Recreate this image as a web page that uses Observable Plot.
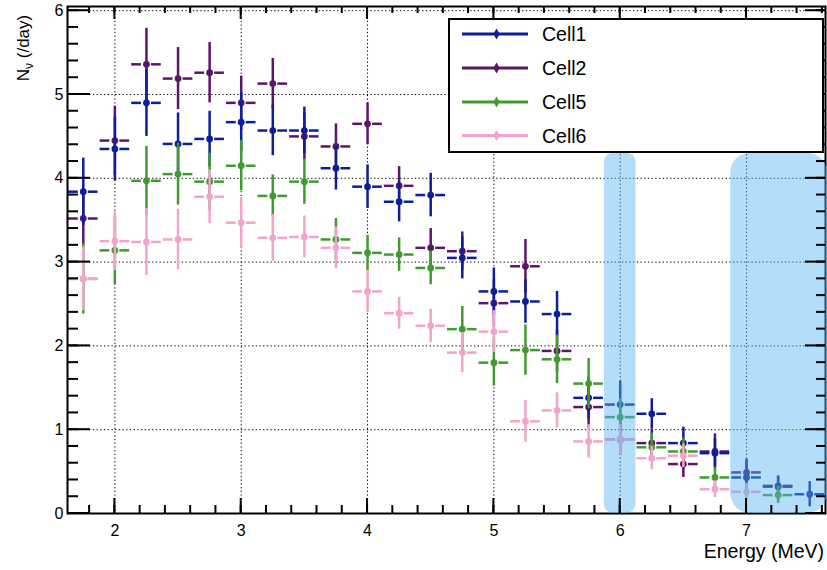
<!DOCTYPE html>
<html>
<head>
<meta charset="utf-8">
<script src="https://cdn.jsdelivr.net/npm/d3@7"></script>
<script src="https://cdn.jsdelivr.net/npm/@observablehq/plot@0.6"></script>
<style>
  html, body { margin: 0; padding: 0; background: #fff; }
  #chart { width: 827px; height: 570px; }
</style>
</head>
<body>
<div id="chart"></div>
<script>
// ---- Data ----
const energy = [1.75, 2.0, 2.25, 2.5, 2.75, 3.0, 3.25, 3.5, 3.75, 4.0, 4.25, 4.5,
                4.75, 5.0, 5.25, 5.5, 5.75, 6.0, 6.25, 6.5, 6.75, 7.0, 7.25, 7.5];

const cell1    = [3.84, 4.35, 4.90, 4.41, 4.47, 4.67, 4.57, 4.57, 4.12, 3.90, 3.72, 3.80,
                  3.05, 2.65, 2.53, 2.38, 1.38, 1.30, 1.19, 0.84, 0.72, 0.43, 0.32, 0.23];
const cell1Err = [0.40, 0.38, 0.40, 0.37, 0.33, 0.35, 0.30, 0.28, 0.26, 0.26, 0.24, 0.26,
                  0.25, 0.28, 0.26, 0.27, 0.25, 0.28, 0.18, 0.19, 0.17, 0.22, 0.12, 0.15];

const cell2    = [3.52, 4.45, 5.36, 5.19, 5.26, 4.90, 5.13, 4.50, 4.38, 4.65, 3.91, 3.17,
                  3.13, 2.51, 2.95, 1.94, 1.27, 0.88, 0.84, 0.59, 0.74, 0.49, 0.33, null];
const cell2Err = [0.32, 0.41, 0.43, 0.37, 0.36, 0.32, 0.30, 0.28, 0.27, 0.25, 0.23, 0.23,
                  0.23, 0.28, 0.32, 0.25, 0.25, 0.18, 0.17, 0.16, 0.21, 0.15, 0.12, null];

const cell5    = [2.80, 3.14, 3.97, 4.05, 3.96, 4.15, 3.79, 3.96, 3.27, 3.11, 3.09, 2.93,
                  2.20, 1.80, 1.95, 1.84, 1.55, 1.15, 0.79, 0.74, 0.43, null, 0.22, null];
const cell5Err = [0.42, 0.41, 0.41, 0.37, 0.34, 0.30, 0.25, 0.27, 0.25, 0.21, 0.20, 0.20,
                  0.27, 0.28, 0.30, 0.29, 0.30, 0.22, 0.17, 0.16, 0.12, null, 0.10, null];

const cell6    = [2.80, 3.25, 3.24, 3.27, 3.78, 3.47, 3.29, 3.30, 3.17, 2.65, 2.39, 2.24,
                  1.92, 2.17, 1.10, 1.23, 0.86, 0.88, 0.66, 0.69, 0.29, 0.26, null, null];
const cell6Err = [0.38, 0.35, 0.40, 0.36, 0.32, 0.30, 0.28, 0.25, 0.25, 0.25, 0.19, 0.20,
                  0.24, 0.25, 0.25, 0.21, 0.20, 0.18, 0.14, 0.14, 0.10, 0.10, null, null];

const seriesNames  = ["Cell1", "Cell2", "Cell5", "Cell6"];
const seriesValues = [cell1, cell2, cell5, cell6];
const seriesErrors = [cell1Err, cell2Err, cell5Err, cell6Err];
const seriesColors = ["#0c1f98", "#5c1668", "#3f9a2f", "#f3a3cc"];
const drawOrder    = ["Cell2", "Cell1", "Cell5", "Cell6"];

const binHalfWidth = 0.125;
const xDomain = [1.625, 7.625];
const yDomain = [0, 6.05];
const xMajorTicks = [2, 3, 4, 5, 6, 7];
const xTickLabels = ["2", "3", "4", "5", "6", "7"];
const yMajorTicks = [0, 1, 2, 3, 4, 5, 6];
const yTickLabels = ["0", "1", "2", "3", "4", "5", "6"];
const xMinorTicks = d3.range(18, 77, 2).map(v => v / 10);
const yMinorTicks = d3.range(0, 61, 2).map(v => v / 10);

// highlighted energy bands (overlay)
const shadeNarrow = [{x1: 5.875, x2: 6.125, y1: 0, y2: 4.30}];
const shadeWide   = [{x1: 6.875, x2: 7.64,  y1: 0, y2: 4.30}];

const xTitle = "Energy (MeV)";

// ---- Build rows ----
const colorOf = Object.fromEntries(seriesNames.map((n, i) => [n, seriesColors[i]]));
const rows = [];
seriesNames.forEach((name, s) => {
  energy.forEach((e, i) => {
    const v = seriesValues[s][i];
    if (v != null) rows.push({series: name, x: e, y: v, err: seriesErrors[s][i]});
  });
});

const W = 827, H = 570;
const MARGIN = {left: 67, right: 2, top: 6, bottom: 57};
const FONT = "'Liberation Sans', Arial, Helvetica, sans-serif";
const sw = 2.5;

const marks = [
  Plot.gridX(xMajorTicks, {stroke: "#000", strokeOpacity: 1, strokeWidth: 1, strokeDasharray: "1.3,2.4"}),
  Plot.gridY(yMajorTicks, {stroke: "#000", strokeOpacity: 1, strokeWidth: 1, strokeDasharray: "1.3,2.4"})
];

for (const name of drawOrder) {
  const d = rows.filter(r => r.series === name);
  const c = colorOf[name];
  marks.push(
    Plot.ruleX(d, {x: "x", y1: r => r.y - r.err, y2: r => r.y + r.err, stroke: c, strokeWidth: sw}),
    Plot.ruleY(d, {y: "y", x1: r => r.x - binHalfWidth, x2: "x", stroke: c, strokeWidth: sw, insetLeft: 1, insetRight: 5}),
    Plot.ruleY(d, {y: "y", x1: "x", x2: r => r.x + binHalfWidth, stroke: c, strokeWidth: sw, insetLeft: 5, insetRight: 1}),
    Plot.dot(d, {x: "x", y: "y", r: 3.4, fill: c, stroke: null})
  );
}

marks.push(
  Plot.axisX(xMajorTicks, {anchor: "bottom", tickSize: 0, tickPadding: 11, label: null,
    tickFormat: (d) => xTickLabels[xMajorTicks.indexOf(d)], fontSize: 16, fontFamily: FONT, fill: "#000"}),
  Plot.axisY(yMajorTicks, {anchor: "left", tickSize: 0, tickPadding: 4, label: null,
    tickFormat: (d) => yTickLabels[yMajorTicks.indexOf(d)], fontSize: 16, fontFamily: FONT, fill: "#000"}),
  Plot.frame({stroke: "#000", strokeWidth: 2}),
  // shaded bands
  Plot.rect(shadeNarrow, {x1: "x1", x2: "x2", y1: "y1", y2: "y2", fill: "#57b3ef", fillOpacity: 0.45, rx: 9}),
  Plot.rect(shadeWide,   {x1: "x1", x2: "x2", y1: "y1", y2: "y2", fill: "#57b3ef", fillOpacity: 0.45, rx: 20})
);

const chart = Plot.plot({
  width: W,
  height: H,
  marginLeft: MARGIN.left,
  marginRight: MARGIN.right,
  marginTop: MARGIN.top,
  marginBottom: MARGIN.bottom,
  style: {fontFamily: FONT, background: "#fff"},
  x: {domain: xDomain, axis: null},
  y: {domain: yDomain, axis: null},
  marks
});

document.getElementById("chart").appendChild(chart);

const svg = d3.select(chart);

// ---- Titles ----
const yt = svg.append("text")
  .attr("transform", "translate(29,48) rotate(-90)")
  .attr("text-anchor", "middle")
  .attr("font-family", FONT)
  .attr("font-size", 17)
  .attr("fill", "#000");
yt.append("tspan").text("N");
yt.append("tspan").attr("font-size", 12).attr("dy", 4).text("ν");
yt.append("tspan").attr("dy", -4).text(" (/day)");

svg.append("text")
  .attr("x", 824).attr("y", 558)
  .attr("text-anchor", "end")
  .attr("font-family", FONT)
  .attr("font-size", 19.5)
  .attr("fill", "#000")
  .text(xTitle);

// ---- Inward axis ticks on all four sides ----
let px, py;
try {
  const sx = chart.scale("x"), sy = chart.scale("y");
  px = v => sx.apply(v);
  py = v => sy.apply(v);
  if (!isFinite(px(2)) || !isFinite(py(2))) throw new Error("scale");
} catch (e) {
  px = d3.scaleLinear(xDomain, [MARGIN.left, W - MARGIN.right]);
  py = d3.scaleLinear(yDomain, [H - MARGIN.bottom, MARGIN.top]);
}
const frameLeft = MARGIN.left, frameRight = W - MARGIN.right;
const frameTop = MARGIN.top, frameBottom = H - MARGIN.bottom;
const tg = svg.append("g").attr("class", "inward-ticks");
function addTick(x1, y1, x2, y2) {
  tg.append("path")
    .attr("d", `M${x1},${y1}L${x2},${y2}`)
    .attr("stroke", "#000").attr("stroke-width", 2).attr("fill", "none");
}
xMinorTicks.forEach(v => addTick(px(v), frameBottom, px(v), frameBottom - 8));
xMajorTicks.forEach(v => addTick(px(v), frameBottom, px(v), frameBottom - 15));
xMinorTicks.forEach(v => addTick(px(v), frameTop, px(v), frameTop + 7));
xMajorTicks.forEach(v => addTick(px(v), frameTop, px(v), frameTop + 13));
yMinorTicks.forEach(v => addTick(frameLeft, py(v), frameLeft + 11, py(v)));
yMajorTicks.forEach(v => addTick(frameLeft, py(v), frameLeft + 23, py(v)));
yMinorTicks.forEach(v => addTick(frameRight, py(v), frameRight - 9, py(v)));
yMajorTicks.forEach(v => addTick(frameRight, py(v), frameRight - 20, py(v)));

// ---- Legend ----
const lg = svg.append("g");
lg.append("rect")
  .attr("x", 449).attr("y", 19).attr("width", 374).attr("height", 133)
  .attr("fill", "#fff").attr("stroke", "#000").attr("stroke-width", 2);
const legendRowY = [34, 68, 102, 135.5];
seriesNames.forEach((name, i) => {
  const y = legendRowY[i];
  lg.append("line").attr("x1", 462).attr("x2", 528).attr("y1", y).attr("y2", y)
    .attr("stroke", seriesColors[i]).attr("stroke-width", 3);
  lg.append("path").attr("d", d3.symbol(d3.symbolDiamond, 34)())
    .attr("transform", `translate(496.5,${y})`).attr("fill", seriesColors[i]);
  lg.append("text").attr("x", 542).attr("y", y).attr("dy", "0.36em")
    .attr("text-anchor", "start")
    .attr("font-family", FONT).attr("font-size", 19.5).attr("fill", "#000")
    .text(name);
});
</script>
</body>
</html>
